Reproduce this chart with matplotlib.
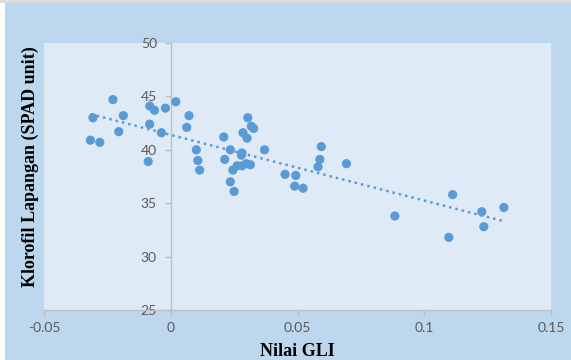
import numpy as np
import matplotlib
matplotlib.use("Agg")
import matplotlib.pyplot as plt
from matplotlib.patches import Rectangle

# Nilai GLI vs Klorofil Lapangan (SPAD unit)
gli = [-0.0317, -0.0307, -0.0280, -0.0228, -0.0205, -0.0187,
       -0.0089, -0.0083, -0.0083, -0.0064, -0.0037, -0.0021,
       0.0020, 0.0063, 0.0072, 0.0101, 0.0107, 0.0114,
       0.0209, 0.0213, 0.0235, 0.0235, 0.0245, 0.0250,
       0.0262, 0.0279, 0.0281, 0.0281, 0.0285, 0.0298,
       0.0301, 0.0304, 0.0314, 0.0318, 0.0327, 0.0370,
       0.0451, 0.0489, 0.0493, 0.0522, 0.0581, 0.0588,
       0.0594, 0.0693, 0.0884, 0.1097, 0.1112, 0.1227,
       0.1235, 0.1314]
spad = [40.9, 43.0, 40.7, 44.7, 41.7, 43.2,
        38.9, 44.1, 42.4, 43.7, 41.6, 43.9,
        44.5, 42.1, 43.2, 40.0, 39.0, 38.1,
        41.2, 39.1, 40.0, 37.0, 38.1, 36.1,
        38.5, 39.5, 38.5, 39.7, 41.6, 38.7,
        41.1, 43.0, 38.6, 42.2, 42.0, 40.0,
        37.7, 36.6, 37.6, 36.4, 38.4, 39.1,
        40.3, 38.7, 33.8, 31.8, 35.8, 34.2,
        32.8, 34.6]

xticks = [-0.05, 0, 0.05, 0.1, 0.15]
xtick_labels = ["-0.05", "0", "0.05", "0.1", "0.15"]
yticks = [25, 30, 35, 40, 45, 50]

blue = "#5B9BD5"
grey = "#BFBFBF"
txt = "#595959"

fig = plt.figure(figsize=(5.71, 3.6), dpi=100)
fig.patch.set_facecolor("white")
fig.patches.append(Rectangle((5 / 571, 0), 1, 357 / 360, transform=fig.transFigure,
                             facecolor="#BDD7EE", edgecolor="none", zorder=-10))
fig.patches.append(Rectangle((0, 357 / 360), 1, 3 / 360, transform=fig.transFigure,
                             facecolor="#DCDCDC", edgecolor="none", zorder=-10))

ax = fig.add_axes([44 / 571, 50 / 360, 507 / 571, 267 / 360])
ax.set_facecolor("#DEEBF7")

ax.scatter(gli, spad, s=44, color=blue, edgecolors="none", zorder=3)

# linear trendline
k, b = np.polyfit(gli, spad, 1)
xs = np.array([min(gli), max(gli)])
ax.plot(xs, k * xs + b, linestyle=(0, (1, 1.6)), color=blue, linewidth=1.8, zorder=2)

ax.set_xlim(-0.05, 0.15)
ax.set_ylim(25, 50)
ax.set_xticks(xticks)
ax.set_xticklabels(xtick_labels)
ax.set_yticks(yticks)

ax.spines["left"].set_position(("data", 0))
for s in ["top", "right"]:
    ax.spines[s].set_visible(False)
for s in ["left", "bottom"]:
    ax.spines[s].set_color(grey)
    ax.spines[s].set_linewidth(1)

ax.tick_params(axis="both", colors=grey, labelcolor=txt, labelsize=10, length=4, width=1)
ax.tick_params(axis="y", pad=6)
ax.tick_params(axis="x", pad=5)
for lab in ax.get_xticklabels() + ax.get_yticklabels():
    lab.set_family("Lato")

fig.text(297 / 571, 8 / 360, "Nilai GLI", ha="center", va="center",
         family="Liberation Serif", weight="bold", fontsize=13)
fig.text(30 / 571, 1 - 167 / 360, "Klorofil Lapangan (SPAD unit)", ha="center", va="center",
         rotation=90, family="Liberation Serif", weight="bold", fontsize=13)

fig.savefig("out.png", dpi=100, facecolor=fig.get_facecolor())
